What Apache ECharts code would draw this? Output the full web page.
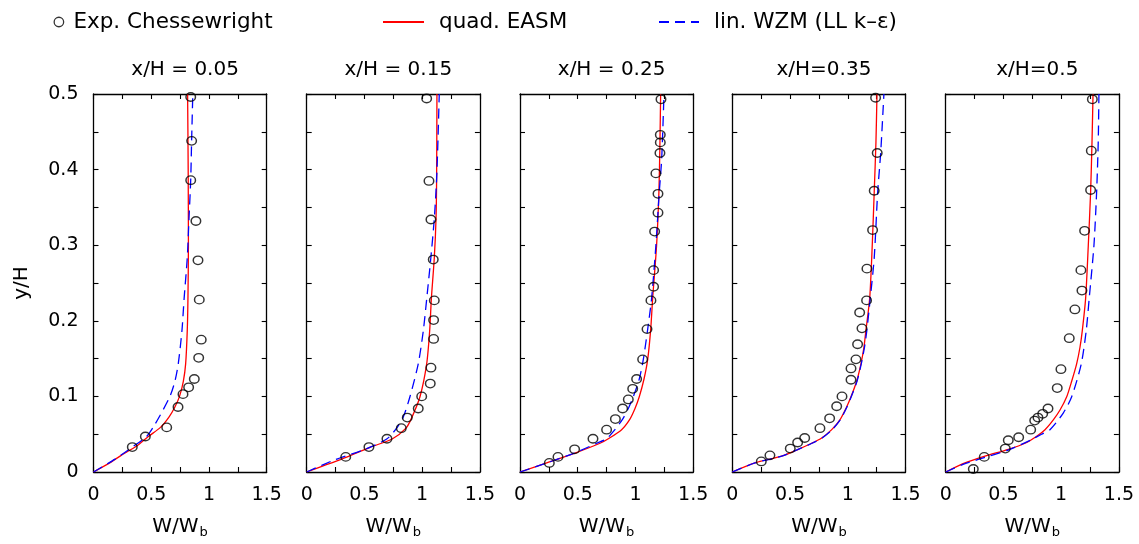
<!DOCTYPE html>
<html><head><meta charset="utf-8">
<script src="https://cdn.jsdelivr.net/npm/echarts@6/dist/echarts.min.js"></script>
<style>html,body{margin:0;padding:0;background:#fff}#c{width:1139px;height:544px}</style>
</head><body><div id="c"></div>
<script>
// Panel titles
const panelTitles = ['x/H = 0.05', 'x/H = 0.15', 'x/H = 0.25', 'x/H=0.35', 'x/H=0.5'];
const seriesNames = ['Exp. Chessewright', 'quad. EASM', 'lin. WZM (LL k\u2013\u03b5)'];
const xTickLabels = ['0', '0.5', '1', '1.5'];
const yTickLabels = ['0', '0.1', '0.2', '0.3', '0.4', '0.5'];

// Experimental data [W/Wb, y/H]
const exp005 = [[0.842,0.496],[0.850,0.438],[0.842,0.386],[0.887,0.332],[0.905,0.280],[0.916,0.228],[0.933,0.175],[0.911,0.151],[0.873,0.123],[0.824,0.112],[0.775,0.103],[0.732,0.086],[0.634,0.059],[0.449,0.047],[0.336,0.033]];
const exp015 = [[1.039,0.494],[1.059,0.385],[1.076,0.334],[1.096,0.281],[1.105,0.227],[1.099,0.201],[1.099,0.176],[1.076,0.138],[1.070,0.117],[0.996,0.100],[0.966,0.084],[0.871,0.072],[0.819,0.058],[0.695,0.044],[0.539,0.033],[0.338,0.020]];
const exp025 = [[1.221,0.493],[1.215,0.446],[1.215,0.436],[1.212,0.422],[1.177,0.395],[1.195,0.368],[1.195,0.343],[1.166,0.318],[1.157,0.267],[1.157,0.245],[1.134,0.227],[1.100,0.189],[1.062,0.149],[1.010,0.123],[0.976,0.110],[0.938,0.096],[0.889,0.084],[0.826,0.070],[0.750,0.056],[0.632,0.044],[0.473,0.030],[0.329,0.020],[0.254,0.012]];
const exp035 = [[1.241,0.495],[1.255,0.422],[1.229,0.372],[1.215,0.320],[1.166,0.269],[1.163,0.227],[1.103,0.211],[1.123,0.190],[1.085,0.169],[1.071,0.149],[1.028,0.137],[1.028,0.122],[0.950,0.100],[0.904,0.087],[0.843,0.071],[0.759,0.058],[0.627,0.045],[0.566,0.039],[0.502,0.031],[0.326,0.022],[0.251,0.014]];
const exp05 = [[1.270,0.493],[1.261,0.425],[1.255,0.373],[1.203,0.319],[1.171,0.267],[1.180,0.240],[1.119,0.215],[1.070,0.177],[0.998,0.136],[0.966,0.111],[0.886,0.084],[0.840,0.077],[0.799,0.072],[0.771,0.068],[0.736,0.056],[0.632,0.046],[0.542,0.042],[0.516,0.031],[0.334,0.020],[0.239,0.004]];

// quad. EASM curves
const easm005 = [[0,0],[0.14,0.012],[0.24,0.022],[0.37,0.034],[0.475,0.047],[0.58,0.059],[0.655,0.073],[0.705,0.086],[0.745,0.100],[0.778,0.120],[0.798,0.143],[0.812,0.187],[0.818,0.230],[0.822,0.300],[0.820,0.400],[0.815,0.500]];
const easm015 = [[0,0],[0.346,0.0196],[0.548,0.0327],[0.74,0.0436],[0.86,0.058],[0.909,0.0716],[0.981,0.0995],[1.039,0.143],[1.065,0.187],[1.08,0.23],[1.105,0.283],[1.12,0.335],[1.125,0.387],[1.128,0.5]];
const easm025 = [[0,0],[0.231,0.012],[0.476,0.025],[0.693,0.038],[0.765,0.044],[0.88,0.056],[0.952,0.07],[0.996,0.084],[1.033,0.0995],[1.074,0.123],[1.106,0.149],[1.132,0.189],[1.149,0.23],[1.183,0.3],[1.203,0.37],[1.212,0.436],[1.218,0.5]];
const easm035 = [[0,0],[0.196,0.012],[0.428,0.021],[0.571,0.03],[0.687,0.038],[0.774,0.045],[0.861,0.056],[0.932,0.069],[0.99,0.086],[1.028,0.0995],[1.077,0.12],[1.114,0.143],[1.14,0.165],[1.157,0.187],[1.19,0.23],[1.212,0.3],[1.229,0.37],[1.244,0.436],[1.253,0.5]];
const easm05 = [[0,0],[0.167,0.012],[0.34,0.021],[0.542,0.03],[0.687,0.038],[0.785,0.047],[0.86,0.056],[0.932,0.069],[0.99,0.082],[1.048,0.0995],[1.091,0.12],[1.134,0.143],[1.163,0.165],[1.183,0.187],[1.212,0.23],[1.235,0.3],[1.255,0.37],[1.267,0.436],[1.276,0.5]];

// lin. WZM curves
const wzm005 = [[0,0],[0.186,0.017],[0.336,0.033],[0.46,0.047],[0.52,0.06],[0.57,0.073],[0.662,0.1],[0.705,0.12],[0.734,0.143],[0.766,0.187],[0.785,0.23],[0.812,0.283],[0.827,0.335],[0.842,0.387],[0.85,0.44],[0.86,0.5]];
const wzm015 = [[0,0],[0.25,0.0166],[0.505,0.03],[0.693,0.0436],[0.779,0.058],[0.837,0.073],[0.894,0.0995],[0.966,0.143],[1.01,0.187],[1.04,0.23],[1.075,0.283],[1.105,0.335],[1.125,0.387],[1.137,0.44],[1.148,0.5]];
const wzm025 = [[0,0],[0.231,0.012],[0.47,0.025],[0.664,0.038],[0.75,0.044],[0.822,0.056],[0.889,0.07],[0.938,0.084],[0.981,0.0995],[1.033,0.123],[1.068,0.149],[1.106,0.189],[1.14,0.23],[1.177,0.3],[1.206,0.37],[1.227,0.414],[1.247,0.5]];
const wzm035 = [[0,0],[0.196,0.012],[0.428,0.021],[0.571,0.03],[0.69,0.038],[0.778,0.045],[0.865,0.056],[0.935,0.069],[0.993,0.086],[1.03,0.0995],[1.08,0.12],[1.117,0.143],[1.145,0.165],[1.165,0.187],[1.195,0.23],[1.229,0.283],[1.259,0.37],[1.285,0.422],[1.313,0.5]];
const wzm05 = [[0,0],[0.15,0.01],[0.282,0.0166],[0.557,0.03],[0.745,0.043],[0.83,0.05],[0.903,0.056],[1.018,0.078],[1.091,0.0995],[1.174,0.143],[1.217,0.187],[1.243,0.23],[1.284,0.3],[1.307,0.37],[1.321,0.436],[1.327,0.5]];

const expAll = [exp005, exp015, exp025, exp035, exp05];
const easmAll = [easm005, easm015, easm025, easm035, easm05];
const wzmAll = [wzm005, wzm015, wzm025, wzm035, wzm05];

const FONT = 'DejaVu Sans';
const gridLeft = [93.5, 306.7, 520, 732.3, 945.7];
const gridW = 173.2, gridTop = 94, gridH = 382;

const grids = [], xAxes = [], yAxes = [], series = [], titles = [];
const near = (v, step) => Math.abs(v / step - Math.round(v / step)) < 1e-6;
const xFmt = v => { if (!near(v, 0.5)) return ''; const s = String(Math.round(v * 10) / 10); return xTickLabels.includes(s) ? s : ''; };
const yFmt = v => { if (!near(v, 0.1)) return ''; const r = Math.round(v * 10) / 10; const s = r === 0 ? '0' : r.toFixed(1); return yTickLabels.includes(s) ? s : ''; };
const tickStyle = { show: true, inside: true, length: 5, lineStyle: { color: '#000', width: 1.1 } };
const lineStyleAx = { show: true, onZero: false, lineStyle: { color: '#000', width: 1.3 } };

for (let i = 0; i < 5; i++) {
  grids.push({ left: gridLeft[i], top: gridTop, width: gridW, height: gridH, containLabel: false });
  titles.push({ text: panelTitles[i], left: gridLeft[i] + gridW / 2, top: 55, textAlign: 'center',
    textStyle: { fontFamily: FONT, fontSize: 20, fontWeight: 'normal', color: '#000' } });
  // bottom x
  xAxes.push({ gridIndex: i, type: 'value', position: 'bottom', min: 0, max: 1.5, interval: 0.25,
    axisLine: lineStyleAx, axisTick: tickStyle, splitLine: { show: false },
    axisLabel: { formatter: xFmt, fontFamily: FONT, fontSize: 19, color: '#000', margin: 14, showMinLabel: true, showMaxLabel: true },
    name: '{a|W/W}{b|b}', nameLocation: 'middle', nameGap: 42,
    nameTextStyle: { rich: { a: { fontFamily: FONT, fontSize: 20, color: '#000' }, b: { fontFamily: FONT, fontSize: 13, color: '#000', padding: [12, 0, 0, 1] } } } });
  // top mirror x
  xAxes.push({ gridIndex: i, type: 'value', position: 'top', min: 0, max: 1.5, interval: 0.25,
    axisLine: lineStyleAx, axisTick: tickStyle, splitLine: { show: false }, axisLabel: { show: false } });
  // left y
  yAxes.push({ gridIndex: i, type: 'value', position: 'left', min: 0, max: 0.5, interval: 0.05,
    axisLine: lineStyleAx, axisTick: tickStyle, splitLine: { show: false },
    axisLabel: { show: i === 0, formatter: yFmt, fontFamily: FONT, fontSize: 19, color: '#000', margin: 15, padding: [4, 0, 0, 0] },
    name: i === 0 ? 'y/H' : '', nameLocation: 'middle', nameGap: 62, nameRotate: 90,
    nameTextStyle: { fontFamily: FONT, fontSize: 20, color: '#000' } });
  // right mirror y
  yAxes.push({ gridIndex: i, type: 'value', position: 'right', min: 0, max: 0.5, interval: 0.05,
    axisLine: lineStyleAx, axisTick: tickStyle, splitLine: { show: false }, axisLabel: { show: false } });

  series.push({ name: seriesNames[0], type: 'scatter', xAxisIndex: 2 * i, yAxisIndex: 2 * i, data: expAll[i],
    symbol: 'circle', symbolSize: [9.5, 8.5], z: 3,
    itemStyle: { color: 'rgba(255,255,255,0)', borderColor: '#000', borderWidth: 1.4 } });
  series.push({ name: seriesNames[1], type: 'line', xAxisIndex: 2 * i, yAxisIndex: 2 * i, data: easmAll[i],
    showSymbol: false, symbol: 'none', smooth: 0.25, z: 2,
    lineStyle: { color: '#ff0000', width: 1.3 }, itemStyle: { color: '#ff0000' } });
  series.push({ name: seriesNames[2], type: 'line', xAxisIndex: 2 * i, yAxisIndex: 2 * i, data: wzmAll[i],
    showSymbol: false, symbol: 'none', smooth: 0.25, z: 2,
    lineStyle: { color: '#0000ff', width: 1.3, type: [10, 6] }, itemStyle: { color: '#0000ff' } });
}

const legTxt = { fontFamily: FONT, fontSize: 21.5, color: '#000' };
const hiddenSym = { color: 'rgba(0,0,0,0)', borderColor: 'rgba(0,0,0,0)', borderWidth: 0, opacity: 0 };
const option = {
  backgroundColor: '#fff',
  animation: false,
  title: titles,
  legend: [
    { data: [{ name: seriesNames[0], icon: 'circle' }], left: 48.5, top: 6, itemWidth: 19, itemHeight: 9.5, textStyle: legTxt,
      itemStyle: { color: 'rgba(255,255,255,0)', borderColor: '#000', borderWidth: 1.3 } },
    { data: [seriesNames[1]], left: 377, top: 6, itemWidth: 41, itemHeight: 14, textStyle: Object.assign({ padding: [0, 0, 0, 10] }, legTxt),
      itemStyle: hiddenSym },
    { data: [seriesNames[2]], left: 653, top: 6, itemWidth: 40, itemHeight: 14, textStyle: Object.assign({ padding: [0, 0, 0, 10] }, legTxt),
      itemStyle: hiddenSym }
  ],
  grid: grids,
  xAxis: xAxes,
  yAxis: yAxes,
  series: series
};
const chart = echarts.init(document.getElementById('c'), null, { renderer: 'canvas' });
chart.setOption(option);
</script></body></html>
